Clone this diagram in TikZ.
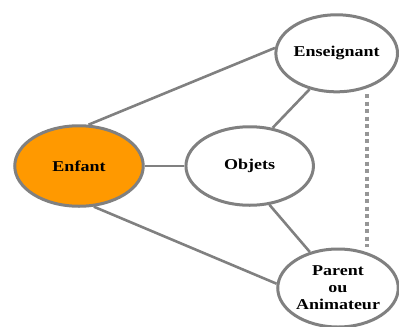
\documentclass[tikz,border=0pt]{standalone}
\usepackage{fontspec}
\setmainfont{Liberation Serif}
\newfontfamily\lblfont[FakeStretch=1.2]{Liberation Serif}
\usetikzlibrary{shapes.geometric}
\definecolor{edgegray}{RGB}{128,128,128}
\definecolor{dashgray}{RGB}{150,150,150}
\definecolor{kidorange}{RGB}{255,153,0}
\tikzset{
  bubble/.style={ellipse, draw=edgegray, line width=3bp, fill=white,
    inner sep=0pt, align=center, font=\lblfont\bfseries\fontsize{15bp}{17bp}\selectfont},
  link/.style={draw=edgegray, line width=2.6bp},
  dashlink/.style={draw=dashgray, line width=3.5bp, dash pattern=on 4bp off 3.5bp}
}
\begin{document}
\begin{tikzpicture}[x=1bp, y=-1bp]
  \useasboundingbox (0,0) rectangle (399,327);
  % actors around the child
  \node[bubble, fill=kidorange, minimum width=128.5bp, minimum height=80.5bp] (enfant) at (79,166) {Enfant};
  \node[bubble, minimum width=127.5bp, minimum height=78.5bp] (objets) at (249.7,166) {Objets};
  \node[bubble, minimum width=120.5bp, minimum height=77bp] (ens) at (336.7,53.3) {Enseignant};
  \node[bubble, minimum width=120.5bp, minimum height=78bp] (parent) at (338,288) {Parent\\ou\\Animateur};
  % relations
  \draw[link] (enfant.77.6) -- (ens.175);
  \draw[link] (enfant.-70.7) -- (parent.176);
  \draw[link] (enfant) -- (objets);
  \draw[link] (objets.59) -- (ens.233.7);
  \draw[link] (objets.-63) -- (parent.128);
  \draw[dashlink, shorten <=6bp, shorten >=5bp] (ens.-49) -- (ens.-49 |- parent.51);
\end{tikzpicture}
\end{document}
